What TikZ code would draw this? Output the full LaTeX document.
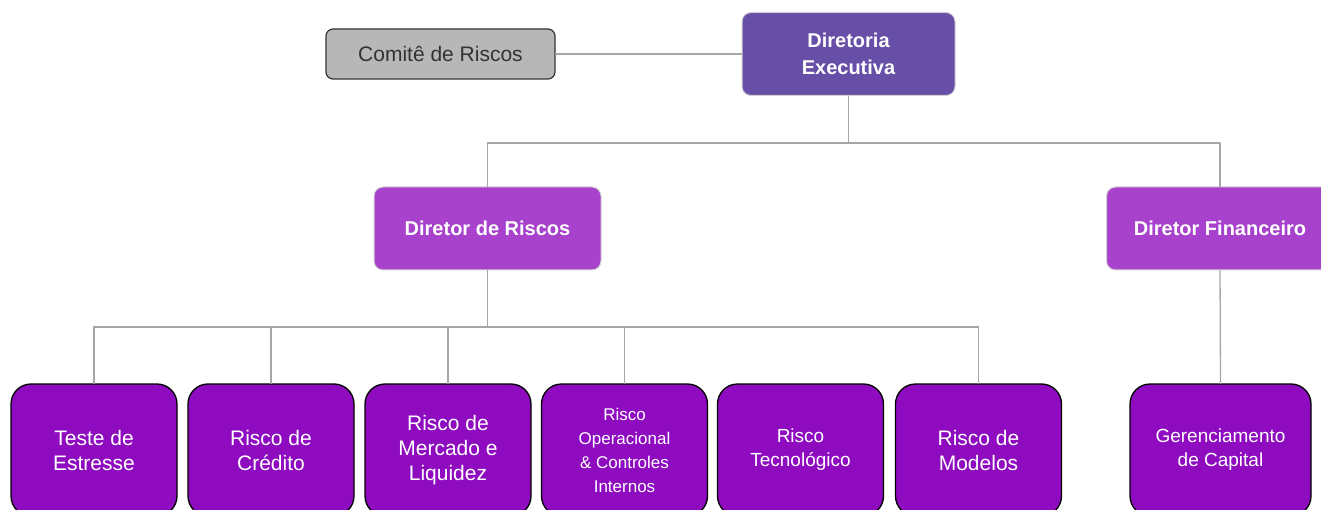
\documentclass[tikz,border=0pt]{standalone}
\usepackage{fontspec}
\setmainfont{Liberation Sans}
\definecolor{execpurple}{HTML}{674EA7}
\definecolor{dirpurple}{HTML}{A842CC}
\definecolor{riskpurple}{HTML}{8E0BBF}
\definecolor{comitegray}{HTML}{B7B7B7}
\definecolor{linkgray}{HTML}{A6A6A6}
\begin{document}
\begin{tikzpicture}[x=1pt,y=-1pt,line join=round,line cap=round]
	\tikzset{
		box/.style={draw,inner sep=0pt,align=center,text=white},
		topbox/.style={box,draw=gray!35,line width=1pt,rounded corners=9pt,minimum height=83pt,font=\fontsize{20}{27}\selectfont\bfseries},
		riskbox/.style={box,draw=black,line width=1.3pt,fill=riskpurple,rounded corners=20pt,minimum width=166pt,minimum height=132pt,font=\fontsize{21}{25}\selectfont},
		smalltxt/.style={font=\fontsize{19}{24}\selectfont},
		link/.style={draw=linkgray,line width=1.3pt}
	}
	\useasboundingbox (0,0) rectangle (1321,510);
	\clip (0,0) rectangle (1321,510);
	% top level
	\node[box,draw=black!80,line width=1.2pt,fill=comitegray,text=black!80,rounded corners=7pt,minimum width=229pt,minimum height=50pt,font=\fontsize{21}{22}\selectfont] (comite) at (440.5,54) {Comitê de Riscos};
	\node[topbox,fill=execpurple,minimum width=213pt] (diretoria) at (848.5,54) {Diretoria\\Executiva};
	\node[topbox,fill=dirpurple,minimum width=227pt] (dirriscos) at (487.5,228.5) {Diretor de Riscos};
	\node[topbox,fill=dirpurple,minimum width=227pt] (dirfin) at (1220,228.5) {Diretor Financeiro};
	% risk areas
	\node[riskbox] (teste) at (94,450) {Teste de\\Estresse};
	\node[riskbox] (credito) at (271,450) {Risco de\\Crédito};
	\node[riskbox] (mercado) at (448,450) {Risco de\\Mercado e\\Liquidez};
	\node[riskbox,font=\fontsize{17}{24}\selectfont] (operacional) at (624.5,450) {Risco\\Operacional\\\& Controles\\Internos};
	\node[riskbox,smalltxt] (tecnologico) at (800.5,450) {Risco\\Tecnológico};
	\node[riskbox] (modelos) at (978.5,450) {Risco de\\Modelos};
	\node[riskbox,smalltxt,minimum width=181pt] (capital) at (1220.5,450) {Gerenciamento\\de Capital};
	% connectors
	\coordinate (topbar) at (848.5,143);
	\coordinate (riskbar) at (487.5,327);
	\draw[link] (comite.east) -- (diretoria.west);
	\draw[link] (diretoria.south) -- (topbar);
	\draw[link] (dirriscos.north) |- (topbar) -| (dirfin.north);
	\draw[link] (dirriscos.south) -- (riskbar);
	\foreach \n in {teste,credito,mercado,operacional,modelos}
	\draw[link] (riskbar) -| (\n.north);
	\draw[link] (dirfin.south) -- (capital.north);
\end{tikzpicture}
\end{document}
